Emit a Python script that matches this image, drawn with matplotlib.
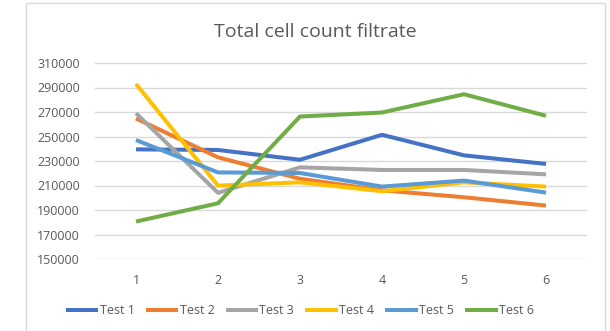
import matplotlib
matplotlib.use("Agg")
import matplotlib.pyplot as plt
from matplotlib.patches import Rectangle

categories = [1, 2, 3, 4, 5, 6]
test1 = [239500, 239000, 231000, 251400, 234600, 227600]
test2 = [264700, 233000, 215500, 206100, 200400, 193600]
test3 = [269000, 204000, 224800, 222700, 222700, 219100]
test4 = [292900, 209900, 212600, 205300, 212600, 209100]
test5 = [247100, 220700, 220200, 209100, 214000, 204200]
test6 = [180600, 195500, 266300, 269600, 284500, 266900]
series_names = ["Test 1", "Test 2", "Test 3", "Test 4", "Test 5", "Test 6"]
y_ticks = [150000, 170000, 190000, 210000, 230000, 250000, 270000, 290000, 310000]
title = "Total cell count filtrate"

colors = ["#4472C4", "#ED7D31", "#A5A5A5", "#FFC000", "#5B9BD5", "#70AD47"]

plt.rcParams['font.family'] = ['Open Sans', 'DejaVu Sans']

W, H = 610, 331
fig = plt.figure(figsize=(W / 100, H / 100), dpi=100)
fig.patch.set_facecolor("white")

# chart border
fig.patches.append(Rectangle((26 / W, 0), (605 - 26) / W, 1 - 3 / H,
                             transform=fig.transFigure, fill=False,
                             edgecolor="#D9D9D9", linewidth=1.0))

ax = fig.add_axes([95 / W, 1 - 259 / H, 492 / W, 196 / H])
all_series = [test1, test2, test3, test4, test5, test6]
for name, vals, c in zip(series_names, all_series, colors):
    ax.plot(categories, vals, color=c, linewidth=2.9, label=name,
            solid_capstyle="butt", solid_joinstyle="round")

ax.set_xlim(0.5, 6.5)
ax.set_ylim(150000, 310000)
ax.set_yticks(y_ticks)
ax.set_yticklabels([str(v) for v in y_ticks])
ax.set_xticks(categories)
ax.set_xticklabels([str(c) for c in categories])
ax.grid(axis="y", color="#D9D9D9", linewidth=1.0)
ax.set_axisbelow(True)
for s in ax.spines.values():
    s.set_visible(False)
ax.tick_params(axis="both", length=0, colors="#595959", labelsize=9)
ax.tick_params(axis="y", pad=11)
ax.tick_params(axis="x", pad=11)

fig.text(315 / W, 1 - 32 / H, title, ha="center", va="center",
         fontsize=14, color="#595959")

handles, labels = ax.get_legend_handles_labels()
leg = fig.legend(handles, labels, loc="center", ncol=6,
                 bbox_to_anchor=(300 / W, 1 - 311 / H), frameon=False,
                 fontsize=9, handlelength=2.6, handletextpad=0.1,
                 columnspacing=0.9, borderaxespad=0)
for t in leg.get_texts():
    t.set_color("#595959")

fig.savefig("out.png", dpi=100, facecolor="white")
